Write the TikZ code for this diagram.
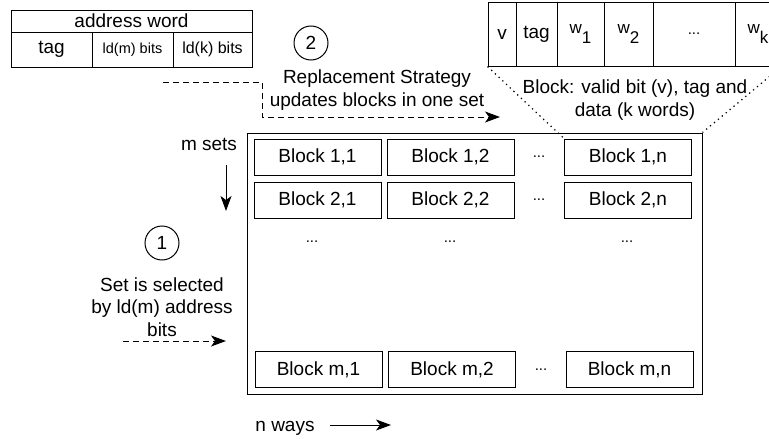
\documentclass[tikz,border=0pt]{standalone}
\usepackage{fontspec}
\setmainfont{Liberation Sans}
\usetikzlibrary{arrows.meta}
\begin{document}
\begin{tikzpicture}[x=1pt,y=-1pt,line width=1pt,
  every node/.style={font=\fontsize{19}{22.5}\selectfont,inner sep=0pt},
  cell/.style={draw,line width=1pt},
  blk/.style={draw,minimum width=127pt,minimum height=36pt},
  num/.style={draw,circle,minimum size=34pt},
  lbl/.style={align=center},
  dsh/.style={dash pattern=on 6pt off 4pt},
  dotl/.style={line width=1.2pt,dash pattern=on 1.3pt off 3.8pt},
  arr/.style={-{Stealth[length=15pt,width=11pt,inset=4pt]}},
  dotsty/.style={font=\fontsize{15}{18}\selectfont}
]
\useasboundingbox (0,0) rectangle (769,439);

% address word
\node[cell,minimum width=241pt,minimum height=22pt] (aw) at (131.5,21) {address word};
\node[cell,minimum width=81pt,minimum height=35pt] (atag) at (51.5,49.5) {tag};
\node[cell,minimum width=81pt,minimum height=35pt,font=\fontsize{14.5}{17}\selectfont] (aldm) at (132.5,49.5) {ld(m) bits};
\node[cell,minimum width=79pt,minimum height=35pt,font=\fontsize{16}{19}\selectfont] (aldk) at (212.5,49.5) {ld(k) bits};

% block structure
\node[cell,minimum width=28pt,minimum height=64pt] (bv) at (502,34) {v};
\node[cell,minimum width=41pt,minimum height=64pt] (btag) at (536.5,34) {tag};
\node[cell,minimum width=47pt,minimum height=64pt] (bw1) at (580.5,34) {\fontsize{17}{20}\selectfont w\raisebox{-1.1ex}{1}};
\node[cell,minimum width=49pt,minimum height=64pt] (bw2) at (628.5,34) {\fontsize{17}{20}\selectfont w\raisebox{-1.1ex}{2}};
\node[cell,minimum width=82pt,minimum height=64pt,dotsty] (bdots) at (694,34) {...};
\node[cell,minimum width=46pt,minimum height=64pt] (bwk) at (758,34) {\fontsize{17}{20}\selectfont w\raisebox{-1.1ex}{k}};

% circles
\node[num] (c2) at (311,43) {2};
\node[num] (c1) at (162,243) {1};

% labels
\node[lbl] (repl) at (377,90) {Replacement Strategy\\updates blocks in one set};
\node[lbl] (bdesc) at (635,100) {Block: valid bit (v), tag and\\data (k words)};
\node[lbl] (setsel) at (162,307) {Set is selected\\by ld(m) address\\bits};
\node (msets) at (209,144) {m sets};
\node (nways) at (285,428) {n ways};

% cache
\node[draw,minimum width=455pt,minimum height=261pt] (cache) at (474.5,263.5) {};
\node[blk] (b11) at (317.5,157) {Block 1,1};
\node[blk] (b12) at (450.5,157) {Block 1,2};
\node[blk] (b1n) at (628,157) {Block 1,n};
\node[blk] (b21) at (317.5,200) {Block 2,1};
\node[blk] (b22) at (450.5,200) {Block 2,2};
\node[blk] (b2n) at (628,200) {Block 2,n};
\node[blk] (bm1) at (318.5,369.5) {Block m,1};
\node[blk] (bm2) at (452,369.5) {Block m,2};
\node[blk] (bmn) at (629.5,369.5) {Block m,n};
\node[dotsty] (d1) at (539,157) {...};
\node[dotsty] (d2) at (539,200) {...};
\node[dotsty] (d3) at (541,369.5) {...};
\node[dotsty] (d4) at (312,242) {...};
\node[dotsty] (d5) at (450,242) {...};
\node[dotsty] (d6) at (627,242) {...};

% connectors
\coordinate (rs) at (163,82);
\coordinate (re) at (500,117);
\draw[dsh,arr] (rs) -- (262,82) -- (262,117) -- (re);
\coordinate (ss) at (123,341);
\coordinate (se) at (226,341);
\draw[dsh,arr] (ss) -- (se);
\coordinate (ms) at (226,165);
\coordinate (me) at (226,211);
\draw[arr] (ms) -- (me);
\coordinate (ns) at (330,425);
\coordinate (ne) at (391,425);
\draw[arr] (ns) -- (ne);
\draw[dotl] (bv.south west) -- (b1n.north west);
\draw[dotl] (bwk.south east) -- (cache.north east);
\end{tikzpicture}
\end{document}
